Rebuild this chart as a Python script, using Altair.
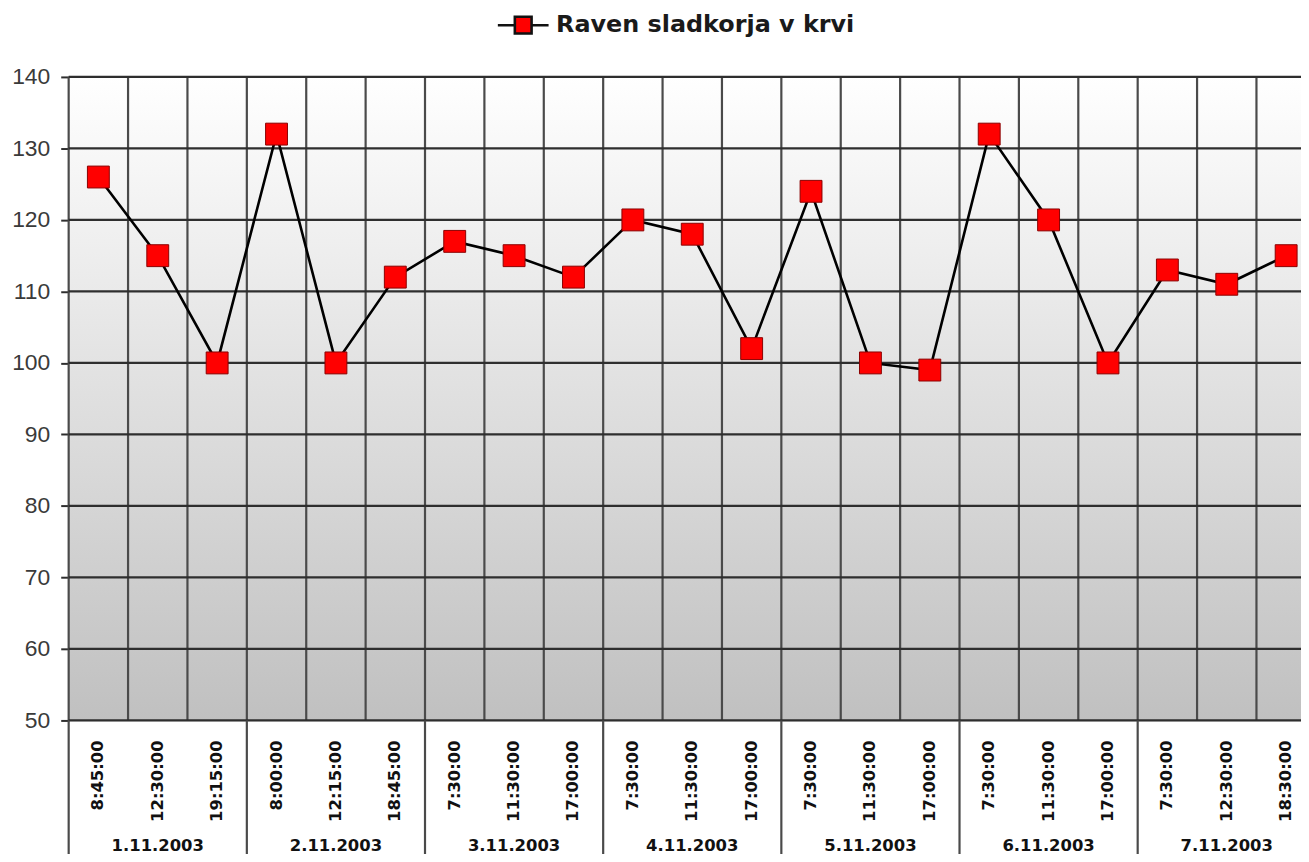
import altair as alt
import pandas as pd

# ---- data ----
times = ["8:45:00", "12:30:00", "19:15:00",
         "8:00:00", "12:15:00", "18:45:00",
         "7:30:00", "11:30:00", "17:00:00",
         "7:30:00", "11:30:00", "17:00:00",
         "7:30:00", "11:30:00", "17:00:00",
         "7:30:00", "11:30:00", "17:00:00",
         "7:30:00", "12:30:00", "18:30:00"]
dates = ["1.11.2003", "2.11.2003", "3.11.2003", "4.11.2003",
         "5.11.2003", "6.11.2003", "7.11.2003"]
values = [126, 115, 100, 132, 100, 112, 117, 115, 112, 120, 118,
          102, 124, 100, 99, 132, 120, 100, 113, 111, 115]
series_name = "Raven sladkorja v krvi"
y_ticks = [50, 60, 70, 80, 90, 100, 110, 120, 130, 140]
per_day = 3

W, H = 1239, 647

df = pd.DataFrame({
    "idx": list(range(len(values))),
    "time": times,
    "value": values,
    "series": [series_name] * len(values),
})
day_df = pd.DataFrame({
    "date": dates,
    "center": [i * per_day + (per_day - 1) / 2 for i in range(len(dates))],
    "start": [i * per_day - 0.5 for i in range(len(dates))],
})
cell_df = pd.DataFrame({"b": [i - 0.5 for i in range(len(values))]})
ytick_df = pd.DataFrame({"v": y_ticks})

xscale = alt.Scale(domain=[-0.5, 20.25], nice=False, zero=False)
yscale = alt.Scale(domain=[50, 140], nice=False, zero=False)

bg = alt.Chart(alt.Data(values=[{}])).mark_rect(
    color=alt.Gradient(
        gradient="linear",
        stops=[alt.GradientStop(color="#ffffff", offset=0),
               alt.GradientStop(color="#c0c0c0", offset=1)],
        x1=0, x2=0, y1=0, y2=1,
    )
).encode(x=alt.value(0), x2=alt.value(W), y=alt.value(0), y2=alt.value(H))

hgrid = alt.Chart(ytick_df).mark_rule(color="#2e2e2e", strokeWidth=2.2).encode(
    y=alt.Y("v:Q", scale=yscale,
            axis=alt.Axis(values=y_ticks, title=None, grid=False, domain=False,
                          tickColor="#2e2e2e", tickWidth=2, tickSize=8,
                          labelFont="Liberation Sans", labelFontSize=23,
                          labelColor="#3a3a3a", labelPadding=11)),
    x=alt.value(0), x2=alt.value(W),
)

vgrid = alt.Chart(cell_df).mark_rule(color="#4a4a4a", strokeWidth=2.2).encode(
    x=alt.X("b:Q", scale=xscale, axis=None),
    y=alt.value(0), y2=alt.value(H),
)

seps = alt.Chart(day_df).mark_rule(color="#4a4a4a", strokeWidth=2.2).encode(
    x=alt.X("start:Q", scale=xscale, axis=None),
    y=alt.value(H), y2=alt.value(H + 140),
)

line = alt.Chart(df).mark_line(color="black", strokeWidth=2.6).encode(
    x=alt.X("idx:Q", scale=xscale, axis=None),
    y=alt.Y("value:Q", scale=yscale),
)

legend_path = "M-1,0H-0.33M0.33,0H1M-0.33,-0.33H0.33V0.33H-0.33Z"
points = alt.Chart(df).mark_point(
    shape="square", size=484, filled=True, opacity=1,
    stroke="#8a0000", strokeWidth=1,
).encode(
    x=alt.X("idx:Q", scale=xscale, axis=None),
    y=alt.Y("value:Q", scale=yscale),
    fill=alt.Fill("series:N", scale=alt.Scale(range=["#ff0000"]),
                  legend=alt.Legend(
                      orient="none", legendX=430, legendY=-79, title=None,
                      symbolType=legend_path, symbolSize=2601,
                      symbolStrokeColor="#111111", symbolStrokeWidth=2.6,
                      symbolFillColor="#ff0000",
                      labelFont="DejaVu Sans", labelFontSize=24,
                      labelFontWeight="bold", labelColor="#1a1a1a",
                      labelOffset=6, labelLimit=0, padding=0)),
)

time_text = alt.Chart(df).mark_text(
    angle=270, align="right", baseline="middle",
    font="DejaVu Sans", fontSize=16.5, fontWeight="bold", color="#111111",
).encode(
    x=alt.X("idx:Q", scale=xscale, axis=None),
    y=alt.value(H + 20),
    text="time:N",
)

date_text = alt.Chart(day_df).mark_text(
    align="center", baseline="alphabetic",
    font="DejaVu Sans", fontSize=16.5, fontWeight="bold", color="#111111",
).encode(
    x=alt.X("center:Q", scale=xscale, axis=None),
    y=alt.value(H + 131),
    text="date:N",
)

chart = alt.layer(bg, vgrid, hgrid, seps, line, points, time_text, date_text).properties(
    width=W, height=H,
    autosize=alt.AutoSizeParams(type="none"),
    padding={"left": 61, "top": 67, "right": 0, "bottom": 132},
).configure_view(stroke=None).configure(background="white")

chart.save("out.html", embed_options={"renderer": "svg", "actions": False})
